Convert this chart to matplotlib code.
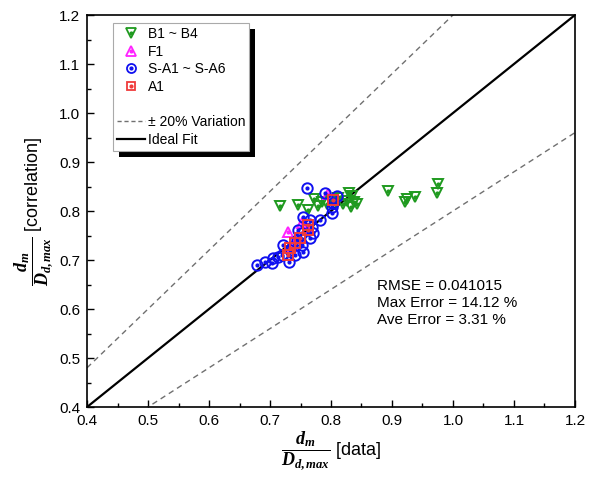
import numpy as np
import matplotlib.pyplot as plt
from matplotlib.lines import Line2D
from matplotlib.patches import Rectangle

plt.rcParams['font.family'] = ['Liberation Sans', 'DejaVu Sans']
plt.rcParams['mathtext.fontset'] = 'custom'
plt.rcParams['mathtext.rm'] = 'Liberation Serif:bold'
plt.rcParams['mathtext.it'] = 'Liberation Serif:italic:bold'
plt.rcParams['mathtext.bf'] = 'Liberation Serif:italic:bold'

# B1 ~ B4 (data, correlation)
b_data = [0.716, 0.746, 0.762, 0.772, 0.778, 0.785, 0.793, 0.800, 0.808, 0.812,
          0.820, 0.826, 0.830, 0.834, 0.832, 0.838, 0.842, 0.893, 0.921, 0.925,
          0.938, 0.974, 0.976]
b_corr = [0.810, 0.812, 0.802, 0.825, 0.810, 0.818, 0.815, 0.822, 0.818, 0.826,
          0.815, 0.820, 0.837, 0.830, 0.808, 0.818, 0.815, 0.841, 0.818, 0.825,
          0.829, 0.837, 0.855]

# F1
f_data = [0.730, 0.752, 0.745, 0.795, 0.738, 0.760]
f_corr = [0.757, 0.776, 0.745, 0.835, 0.728, 0.765]

# S-A1 ~ S-A6
s_data = [0.761, 0.790, 0.810, 0.803, 0.802, 0.782, 0.754, 0.752, 0.766, 0.769,
          0.771, 0.746, 0.744, 0.752, 0.766, 0.754, 0.741, 0.733, 0.721, 0.720,
          0.713, 0.705, 0.692, 0.679, 0.703, 0.731, 0.802]
s_corr = [0.847, 0.837, 0.831, 0.816, 0.796, 0.782, 0.788, 0.755, 0.782, 0.767,
          0.755, 0.761, 0.741, 0.731, 0.745, 0.716, 0.710, 0.720, 0.731, 0.710,
          0.706, 0.704, 0.696, 0.690, 0.694, 0.696, 0.808]

# A1
a_data = [0.762, 0.749, 0.741, 0.733, 0.730, 0.803, 0.762]
a_corr = [0.771, 0.745, 0.735, 0.724, 0.710, 0.822, 0.761]

series = [
    (b_data, b_corr, 'v', '#1f9a1f', 'B1 ~ B4'),
    (f_data, f_corr, '^', '#ff22ff', 'F1'),
    (s_data, s_corr, 'o', '#1010f0', 'S-A1 ~ S-A6'),
    (a_data, a_corr, 's', '#f03a3a', 'A1'),
]

fig = plt.figure(figsize=(6.06, 4.78), dpi=100)
ax = fig.add_axes([0.1436, 0.1485, 0.8052, 0.8201])

xs = np.array([0.4, 1.2])
ax.plot(xs, 1.2 * xs, ls='--', color='#707070', lw=1.0, dashes=(4, 3))
ax.plot(xs, 0.8 * xs, ls='--', color='#707070', lw=1.0, dashes=(4, 3))
ax.plot(xs, xs, color='black', lw=1.6)

handles = []
for x, y, m, c, lab in series:
    ms = 7.5 if m != 's' else 6.5
    ax.plot(x, y, ls='none', marker=m, ms=ms, mfc='none', mec=c, mew=1.4)
    ax.plot(x, y, ls='none', marker='o', ms=2, mfc=c, mec=c)
    h1 = Line2D([], [], ls='none', marker=m, ms=ms - 1, mfc='none', mec=c, mew=1.3)
    h2 = Line2D([], [], ls='none', marker='o', ms=2, mfc=c, mec=c)
    handles.append(((h1, h2), lab))

handles.append((Line2D([], [], ls='none'), ' '))
handles.append((Line2D([], [], ls='--', color='#707070', lw=1.0, dashes=(3, 2)), '± 20% Variation'))
handles.append((Line2D([], [], color='black', lw=1.6), 'Ideal Fit'))

leg = ax.legend([h for h, _ in handles], [l for _, l in handles],
                loc='upper left', bbox_to_anchor=(0.053, 0.98), fontsize=10,
                frameon=True, fancybox=False, edgecolor='#aaaaaa',
                framealpha=1, handlelength=2.0, handletextpad=0.2,
                labelspacing=0.26, borderpad=0.3, borderaxespad=0)
leg.get_frame().set_linewidth(0.8)
leg.set_zorder(6)

# black drop shadow behind the legend box
fig.canvas.draw()
bb = leg.get_window_extent().transformed(ax.transAxes.inverted())
off_x = 6 / (ax.bbox.width)
off_y = 6 / (ax.bbox.height)
ax.add_patch(Rectangle((bb.x0 + off_x, bb.y0 - off_y), bb.width, bb.height,
                       transform=ax.transAxes, facecolor='black',
                       edgecolor='none', zorder=5))

ax.text(0.875, 0.612, 'RMSE = 0.041015\nMax Error = 14.12 %\nAve Error = 3.31 %',
        fontsize=11, va='center', ha='left', linespacing=1.25)

ax.set_xlim(0.4, 1.2)
ax.set_ylim(0.4, 1.2)
ax.set_xticks(np.arange(0.4, 1.21, 0.1))
ax.set_yticks(np.arange(0.4, 1.21, 0.1))
ax.set_xticks(np.arange(0.45, 1.2, 0.1), minor=True)
ax.set_yticks(np.arange(0.45, 1.2, 0.1), minor=True)
ax.xaxis.set_major_formatter(plt.FormatStrFormatter('%.1f'))
ax.yaxis.set_major_formatter(plt.FormatStrFormatter('%.1f'))
ax.tick_params(which='both', direction='in', top=False, right=False, labelsize=11)
ax.tick_params(which='major', length=5, width=1.0, pad=5)
ax.tick_params(which='minor', length=3, width=1.0)
for s in ax.spines.values():
    s.set_linewidth(1.2)

ax.set_xlabel(r'$\dfrac{d_m}{D_{d,max}}$ [data]', fontsize=13, labelpad=1)
ax.set_ylabel(r'$\dfrac{d_m}{D_{d,max}}$ [correlation]', fontsize=13, labelpad=3)

fig.savefig('out.png', dpi=100)
